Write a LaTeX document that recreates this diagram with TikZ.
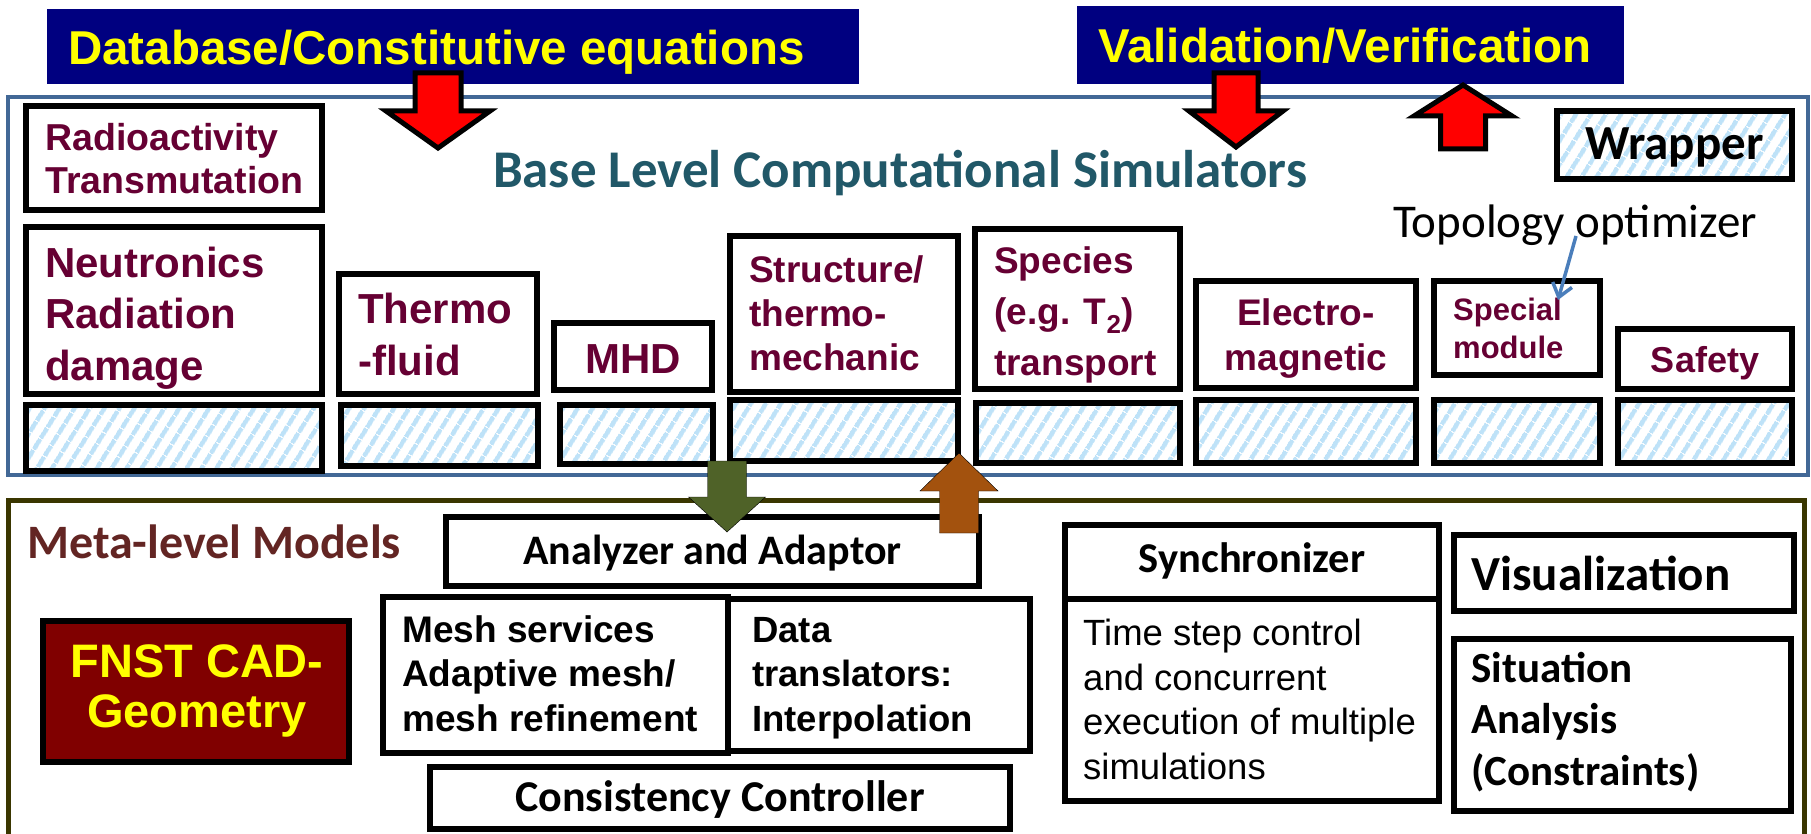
\documentclass[tikz,border=0pt]{standalone}
\usepackage{fontspec}
\setmainfont{Liberation Sans}
\newfontfamily\calibfont{Carlito}
\usetikzlibrary{patterns.meta,arrows.meta}

\definecolor{navybox}{RGB}{0,0,128}
\definecolor{labelyellow}{RGB}{255,255,0}
\definecolor{modred}{RGB}{102,0,51}
\definecolor{simteal}{RGB}{33,88,104}
\definecolor{framblue}{RGB}{66,104,150}
\definecolor{metaolive}{RGB}{58,54,0}
\definecolor{hatchblue}{RGB}{190,226,248}
\definecolor{cadred}{RGB}{128,0,0}
\definecolor{metabrown}{RGB}{99,37,35}
\definecolor{downgreen}{RGB}{79,98,40}
\definecolor{upbrown}{RGB}{163,82,14}
\definecolor{pointblue}{RGB}{74,126,187}

\newcommand{\setfs}[2]{\fontsize{#1}{#2}\selectfont}
\newcommand{\fatarrow}[7]{
    \draw[#1] (#2-#6,#3) -- (#2+#6,#3) -- (#2+#6,#4) -- (#2+#7,#4)
        -- (#2,#5) -- (#2-#7,#4) -- (#2-#6,#4) -- cycle;
}

\tikzset{
  sketch/.style={x=1pt,y=-1pt},
  headbox/.style={fill=navybox,inner sep=0pt},
  headtext/.style={font=\bfseries\setfs{47.5}{56},text=labelyellow,inner sep=0pt,anchor=base west},
  simframe/.style={draw=framblue,line width=4.5pt,inner sep=0pt},
  metaframe/.style={draw=metaolive,line width=5pt},
  modbox/.style={draw=black,line width=5.5pt,fill=white,inner sep=0pt},
  hatchbox/.style={
      draw=black,line width=5.5pt,inner sep=0pt,
      preaction={fill=white},
      preaction={pattern={Lines[angle=58,distance=13pt,line width=5pt]},pattern color=hatchblue}
  },
  modtext/.style={text=modred,inner sep=0pt,align=left,anchor=base west},
  caltext/.style={font=\calibfont\bfseries\setfs{42}{48},inner sep=0pt,anchor=base},
  arialtext/.style={font=\bfseries\setfs{37}{44.5},inner sep=0pt,align=left,anchor=base west},
  redarrow/.style={fill=red,draw=black,line width=5pt,line join=miter},
  greenarrow/.style={fill=downgreen},
  brownarrow/.style={fill=upbrown},
  pointer/.style={draw=pointblue,line width=3.5pt,-{Straight Barb[length=13pt,width=20pt]}}
}

\begin{document}
\begin{tikzpicture}[sketch]
    \path[fill=white,use as bounding box] (0,0) rectangle (1811,834);
    \clip (0,0) rectangle (1811,834);

    % top inputs
    \node[headbox,minimum width=812,minimum height=75] (db) at (453,46.5) {};
    \node[headtext] (dbtxt) at (68,65) {Database/Constitutive equations};
    \node[headbox,minimum width=547,minimum height=78] (vv) at (1350.5,45) {};
    \node[headtext] (vvtxt) at (1098,63) {Validation/Verification};

    % base level
    \node[simframe,minimum width=1800,minimum height=378] (sim) at (908,286) {};
    \node[font=\calibfont\bfseries\setfs{53}{60},text=simteal,inner sep=0pt,anchor=base] (simtxt)
        at (900,188) {Base Level Computational Simulators};

    \node[modbox,minimum width=296,minimum height=104] (radio) at (174,158) {};
    \node[modbox,minimum width=296,minimum height=167] (neut) at (174,310.5) {};
    \node[modbox,minimum width=198,minimum height=120] (thermo) at (438,334) {};
    \node[modbox,minimum width=158,minimum height=67] (mhd) at (633,356.5) {};
    \node[modbox,minimum width=228,minimum height=156] (struct) at (844,314) {};
    \node[modbox,minimum width=205,minimum height=160] (species) at (1077.5,309) {};
    \node[modbox,minimum width=220,minimum height=107] (electro) at (1306,334.5) {};
    \node[modbox,minimum width=166,minimum height=94] (special) at (1517,328) {};
    \node[modbox,minimum width=174,minimum height=60] (safety) at (1705,359) {};

    \foreach \n/\cx/\cy/\w/\h in {1/174/438/296/66, 2/439.5/435.5/197/61, 3/636.5/434.5/153/59,
        4/844/430.5/228/61, 5/1078/433/204/60, 6/1306/431.5/220/63, 7/1517/431.5/166/63,
        8/1705/431.5/174/63}
        \node[hatchbox,minimum width=\w,minimum height=\h] (hatch\n) at (\cx,\cy) {};

    \node[hatchbox,minimum width=235,minimum height=68] (wrapper) at (1674.5,145) {};
    \node[font=\calibfont\bfseries\setfs{49}{54},inner sep=0pt] (wrappertxt) at (1674.5,147) {Wrapper};

    \node[modtext,font=\bfseries\setfs{37.5}{43}] (radiotxt) at (45,194) {Radioactivity\\Transmutation};
    \node[modtext,font=\bfseries\setfs{42}{51.5}] (neuttxt) at (45,380) {Neutronics\\Radiation\\damage};
    \node[modtext,font=\bfseries\setfs{42}{52}] (thermotxt) at (358,375) {Thermo\\-fluid};
    \node[modtext,font=\bfseries\setfs{42}{52},anchor=base] (mhdtxt) at (633,373) {MHD};
    \node[modtext,font=\bfseries\setfs{37}{44}] (structtxt) at (749,370) {Structure/\\thermo-\\mechanic};
    \node[modtext,font=\bfseries\setfs{37}{51}] (speciestxt) at (994,375) {Species\\(e.g. T\textsubscript{2})\\transport};
    \node[modtext,font=\bfseries\setfs{37}{45},align=center,anchor=base] (electrotxt) at (1306,370) {Electro-\\magnetic};
    \node[modtext,font=\bfseries\setfs{31}{38}] (specialtxt) at (1453,358) {Special\\module};
    \node[modtext,font=\bfseries\setfs{36}{44},anchor=base] (safetytxt) at (1705,372) {Safety};

    \node[font=\calibfont\setfs{47}{52},inner sep=0pt,anchor=base west] (topotxt) at (1393,238) {Topology optimizer};
    \coordinate (topofrom) at (1576,236);
    \coordinate (topoto) at (1558,300);
    \draw[pointer] (topofrom) -- (topoto);

    % meta level
    \draw[metaframe] (8,850) -- (8,500) -- (1804,500) -- (1804,850);
    \node[caltext,font=\calibfont\bfseries\setfs{48}{52},text=metabrown,anchor=base west] (metatxt)
        at (27,558) {Meta-level Models};

    \node[modbox,minimum width=533,minimum height=69] (analyzer) at (712.5,551.5) {};
    \node[caltext] (analyzertxt) at (712.5,564) {Analyzer and Adaptor};
    \node[modbox,minimum width=345,minimum height=156] (mesh) at (555.5,675) {};
    \node[modbox,minimum width=302,minimum height=152] (data) at (879,675) {};
    \node[arialtext] (meshtxt) at (402,731) {Mesh services\\Adaptive mesh/\\mesh refinement};
    \node[arialtext,font=\bfseries\setfs{36.5}{44.5}] (datatxt) at (752,731) {Data\\translators:\\Interpolation};
    \node[modbox,minimum width=580,minimum height=62] (consist) at (720,798) {};
    \node[caltext,font=\calibfont\bfseries\setfs{44}{48}] (consisttxt) at (720,811) {Consistency Controller};

    \node[modbox,fill=cadred,minimum width=306,minimum height=141] (fnst) at (196,691.5) {};
    \node[font=\bfseries\setfs{47}{50},text=labelyellow,inner sep=0pt,align=center,anchor=base] (fnsttxt)
        at (197,727) {FNST CAD-\\Geometry};

    \node[modbox,minimum width=374,minimum height=74] (sync) at (1252,562) {};
    \node[modbox,minimum width=374,minimum height=202] (syncdesc) at (1252,700) {};
    \node[caltext,font=\calibfont\bfseries\setfs{42.5}{48}] (synctxt) at (1252,572) {Synchronizer};
    \node[arialtext,font=\setfs{36.5}{44.5}] (syncdesctxt) at (1083,779)
        {Time step control\\and concurrent\\execution of multiple\\simulations};

    \node[modbox,minimum width=340,minimum height=76] (vis) at (1624,573) {};
    \node[caltext,font=\calibfont\bfseries\setfs{49}{54},anchor=base west] (vistxt) at (1471,590) {Visualization};
    \node[modbox,minimum width=337,minimum height=172] (sit) at (1622.5,725) {};
    \node[caltext,font=\calibfont\bfseries\setfs{43}{51.5},anchor=base west,align=left] (sittxt)
        at (1471,785) {Situation\\Analysis\\(Constraints)};

    % block arrows
    \fatarrow{redarrow}{438}{73}{111}{148}{23}{52}
    \fatarrow{redarrow}{1236}{73}{111}{147}{22}{47}
    \fatarrow{redarrow}{1463}{149}{116}{85}{22.5}{49}
    \fatarrow{greenarrow}{727}{461}{497}{532}{19.5}{38.5}
    \fatarrow{brownarrow}{959}{533}{491}{453}{19.5}{39}
\end{tikzpicture}
\end{document}
